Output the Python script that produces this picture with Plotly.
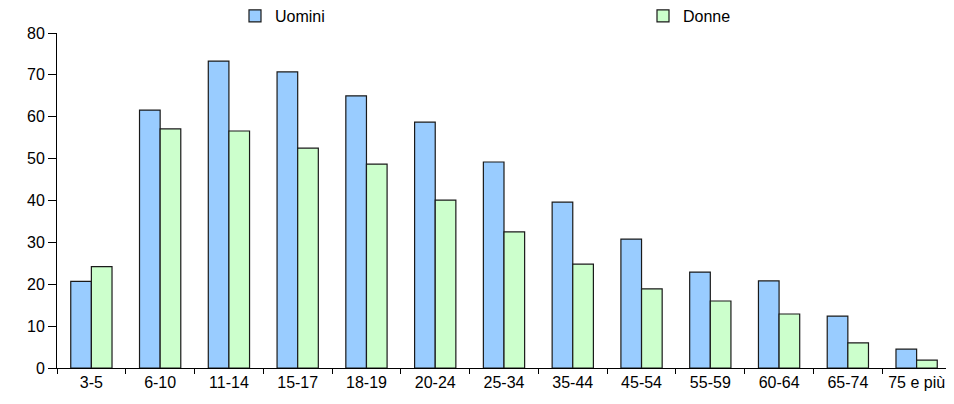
import plotly.graph_objects as go

categories = ["3-5", "6-10", "11-14", "15-17", "18-19", "20-24", "25-34",
              "35-44", "45-54", "55-59", "60-64", "65-74", "75 e più"]
uomini = [20.7, 61.6, 73.3, 70.7, 65.0, 58.7, 49.2, 39.6, 30.8, 22.9, 20.8, 12.4, 4.5]
donne = [24.2, 57.1, 56.6, 52.5, 48.7, 40.1, 32.5, 24.8, 18.9, 16.0, 12.9, 6.0, 1.9]

fig = go.Figure()
fig.add_trace(go.Bar(x=categories, y=uomini, name="Uomini",
                     marker=dict(color="#99ccff", line=dict(color="#1a1a1a", width=1.2)),
                     legend="legend"))
fig.add_trace(go.Bar(x=categories, y=donne, name="Donne",
                     marker=dict(color="#ccffcc", line=dict(color="#1a1a1a", width=1.2)),
                     legend="legend2"))

font = dict(family="Liberation Sans, Arial, sans-serif", size=16, color="#000000")

# page has an 8px body margin, so the figure is drawn at offset (8, 8)
W, H = 946, 396
T, B, L, R = 25, 36, 49, 3
PH = H - T - B
PW = W - L - R
LEG_Y = 1 + (T - 8) / PH

fig.update_layout(
    width=W, height=H,
    margin=dict(l=L, r=R, t=T, b=B, autoexpand=False),
    paper_bgcolor="white", plot_bgcolor="white",
    font=font,
    barmode="group", bargap=0.4, bargroupgap=0,
    showlegend=True,
    legend=dict(x=(227 - L) / PW, y=LEG_Y,
                xanchor="left", yanchor="middle",
                orientation="h", bgcolor="rgba(0,0,0,0)", font=font,
                itemwidth=30, tracegroupgap=0),
    legend2=dict(x=(635 - L) / PW, y=LEG_Y,
                 xanchor="left", yanchor="middle",
                 orientation="h", bgcolor="rgba(0,0,0,0)", font=font,
                 itemwidth=30, tracegroupgap=0),
    xaxis=dict(showline=True, linecolor="#000000", linewidth=1,
               ticks="outside", ticklen=5, tickcolor="#000000",
               tickson="boundaries", showgrid=False, tickfont=font,
               automargin=False),
    yaxis=dict(range=[0, 80], dtick=10, showline=True, linecolor="#000000",
               linewidth=1, ticks="outside", ticklen=8, tickcolor="#000000",
               showgrid=False, zeroline=False, tickfont=font, automargin=False),
)

fig.write_html("out.html")
